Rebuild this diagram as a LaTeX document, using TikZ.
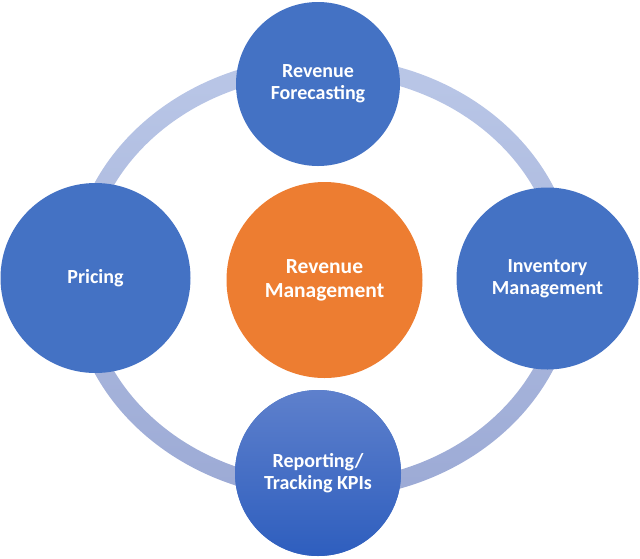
\documentclass[tikz,border=0pt]{standalone}
\usepackage{fontspec}
\setmainfont{Carlito}
\usepackage{xcolor}
\usepackage{tikz}
\definecolor{offblue}{RGB}{68,114,196}
\definecolor{offorange}{RGB}{237,125,49}
\definecolor{ringtop}{RGB}{186,199,231}
\definecolor{ringbot}{RGB}{156,170,213}
\definecolor{kpitop}{RGB}{94,128,204}
\definecolor{kpibot}{RGB}{46,94,190}

\begin{document}
\begin{tikzpicture}[x=1pt,y=-1pt,
  spoke/.style={circle,fill=offblue,inner sep=0pt,align=center,text=white,
    font=\fontsize{20}{22}\selectfont\bfseries},
  hub/.style={spoke,fill=offorange,font=\fontsize{21.5}{24}\selectfont\bfseries}]
  \useasboundingbox (0,0) rectangle (640,558);
  % pale ring behind the four outer circles
  \shade[top color=ringtop,bottom color=ringbot,even odd rule]
    (323,278) ellipse [x radius=253,y radius=221]
    (323,278) ellipse [x radius=235,y radius=203];
  \node[spoke,minimum size=164pt] (forecast) at (318,84) {Revenue\\Forecasting};
  \node[spoke,minimum size=190pt] (pricing) at (95.5,278) {Pricing};
  \node[spoke,minimum size=182pt] (inventory) at (547.5,278.5) {Inventory\\Management};
  \node[spoke,minimum size=166pt,top color=kpitop,bottom color=kpibot] (kpis) at (318,473) {Reporting/\\Tracking KPIs};
  \node[hub,minimum size=196pt] (revmgmt) at (324.5,280) {Revenue\\Management};
\end{tikzpicture}
\end{document}
